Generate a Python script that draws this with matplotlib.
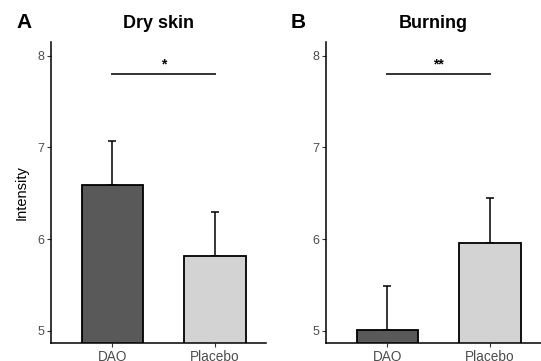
import matplotlib.pyplot as plt
import numpy as np

plt.rcParams['font.family'] = ['Liberation Sans', 'DejaVu Sans']

groups = ["DAO", "Placebo"]
colors = ["#595959", "#d3d3d3"]

titles = ["Dry skin", "Burning"]
letters = ["A", "B"]
means = [[6.59, 5.81], [5.01, 5.96]]
errs = [[0.48, 0.48], [0.48, 0.49]]
stars = ["*", "**"]
sig_y = 7.80

fig = plt.figure(figsize=(5.41, 3.61), dpi=100)
W, H = 541, 361
boxes = [(51, 266), (326, 541)]
top, bot = 42, 343

for k in range(2):
    l, r = boxes[k]
    ax = fig.add_axes([l / W, 1 - bot / H, (r - l) / W, (bot - top) / H])
    x = np.arange(1, 3)
    ax.bar(x, means[k], width=0.6, color=colors, edgecolor="black",
           linewidth=1.3, zorder=2)
    ax.errorbar(x, means[k], yerr=[np.zeros(2), errs[k]], fmt="none",
                ecolor="black", elinewidth=1.1, capsize=3, capthick=1.1,
                zorder=1)
    ax.plot([1, 2], [sig_y, sig_y], color="#333333", lw=1.4)
    ax.text(1.5, sig_y + 0.03, stars[k], ha="center", va="bottom",
            fontsize=10, fontweight="bold")
    ax.set_xlim(0.4, 2.5)
    ax.set_ylim(4.866, 8.15)
    ax.set_xticks(x)
    ax.set_xticklabels(groups)
    ax.set_yticks([5, 6, 7, 8])
    ax.tick_params(axis="y", labelsize=9, labelcolor="#4d4d4d", length=3,
                   width=0.8, color="#333333", pad=2)
    ax.tick_params(axis="x", labelsize=9.8, labelcolor="#4d4d4d", length=3,
                   width=0.8, color="#333333", pad=2)
    for s in ["top", "right"]:
        ax.spines[s].set_visible(False)
    for s in ["left", "bottom"]:
        ax.spines[s].set_linewidth(1.1)
    ax.set_title(titles[k], fontsize=13, fontweight="bold", pad=10)
    fig.text((l - 35) / W, 1 - 23 / H, letters[k], fontsize=15,
             fontweight="bold", va="center", ha="left")
    if k == 0:
        ax.set_ylabel("Intensity", fontsize=10.5, labelpad=6)

fig.savefig("out.png", dpi=100)
